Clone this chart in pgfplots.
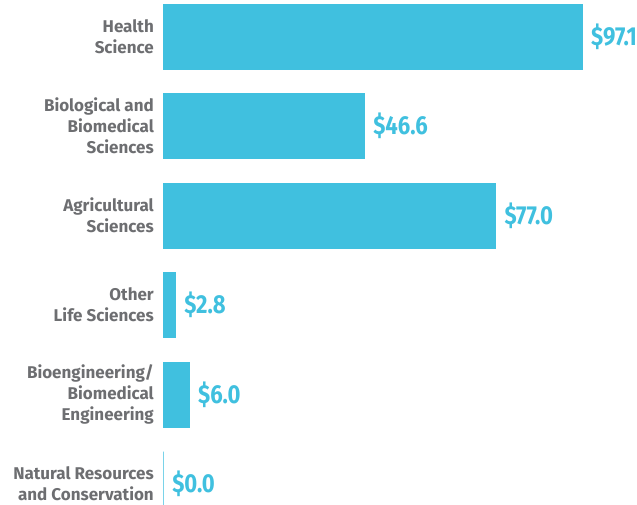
\documentclass[border=0pt]{standalone}
\usepackage{pgfplots}
\pgfplotsset{compat=1.18}
\usepackage{fontspec}
\setmainfont{Fira Sans}
\newfontfamily\labfont{Fira Sans}
\newfontfamily\valfont{Fira Sans}[FakeStretch=0.85]
\definecolor{barc}{HTML}{40C0DF}
\definecolor{labc}{HTML}{6D6E71}
\begin{document}
\begin{tikzpicture}
\begin{axis}[
  at={(163pt,512.25pt)}, anchor=north west,
  scale only axis, width=431.5pt, height=537pt,
  xmin=0, xmax=100, ymin=-0.5, ymax=5.5, y dir=reverse,
  xbar, bar width=65pt, bar shift=0pt,
  axis line style={draw=none}, major tick length=0pt,
  xtick=\empty, ytick={0,1,2,3,4,5},
  yticklabels={{Health\\Science},{Biological and\\Biomedical\\Sciences},{Agricultural\\Sciences},{Other\\Life Sciences},{Bioengineering/\\Biomedical\\Engineering},{Natural Resources\\and Conservation}},
  yticklabel style={align=right, font=\labfont\bfseries\fontsize{17}{21}\selectfont, text=labc, inner sep=0pt, xshift=-9pt, yshift=0pt},
  nodes near coords, point meta=explicit symbolic,
  every node near coord/.append style={font=\valfont\bfseries\fontsize{26}{28}\selectfont, text=barc, inner sep=0pt, anchor=west, xshift=9pt},
  clip=false,
]
\addplot[fill=barc, draw=barc, line width=0.5pt] coordinates {
(97.1,0) [\$97.1]
(46.6,1) [\$46.6]
(77.0,2) [\$77.0]
(2.8,3) [\$2.8]
(6.0,4) [\$6.0]
(0.0,5) [\$0.0]
};
\end{axis}
\pgfresetboundingbox
\path[use as bounding box] (0,0) rectangle (637pt,504pt);
\end{tikzpicture}
\end{document}
